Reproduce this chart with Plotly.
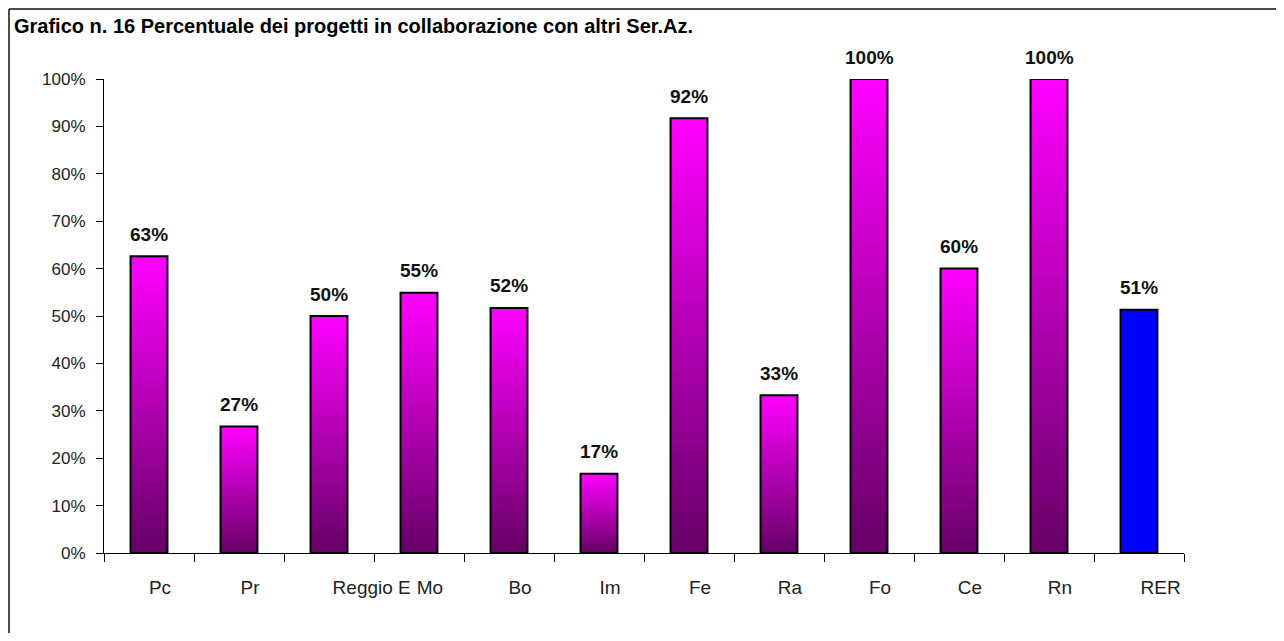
import plotly.graph_objects as go

categories = ["Pc", "Pr", "Reggio E", "Mo", "Bo", "Im", "Fe", "Ra", "Fo", "Ce", "Rn", "RER"]
x_labels = ["Pc", "Pr", "\u00a0" * 12 + "Reggio E", "Mo", "Bo", "Im", "Fe", "Ra", "Fo", "Ce", "Rn", "\u00a0" * 4 + "RER"]
values = [0.626, 0.267, 0.50, 0.549, 0.517, 0.167, 0.917, 0.333, 1.00, 0.60, 1.00, 0.513]
is_total = [False] * 11 + [True]
title_text = "Grafico n. 16 Percentuale dei progetti in collaborazione con altri Ser.Az."
y_ticks = [i / 10 for i in range(11)]

TOP = (255, 0, 255)
BOTTOM = (102, 0, 102)
TOTAL_COLOR = "#0000FF"
N = 60
BAR_W = 0.41

def mix(t):
    r = round(BOTTOM[0] + (TOP[0] - BOTTOM[0]) * t)
    g = round(BOTTOM[1] + (TOP[1] - BOTTOM[1]) * t)
    b = round(BOTTOM[2] + (TOP[2] - BOTTOM[2]) * t)
    return f"rgb({r},{g},{b})"

fig = go.Figure()
# gradient: nested bars from tallest (top colour) to shortest (bottom colour)
for k in range(N, 0, -1):
    t = (k - 0.5) / N
    fig.add_trace(go.Bar(
        x=categories,
        y=[v * k / N for v in values],
        width=BAR_W,
        marker=dict(color=[TOTAL_COLOR if tot else mix(t) for tot in is_total], line=dict(width=0)),
        hoverinfo="skip",
        showlegend=False,
        cliponaxis=False,
    ))
# outline
fig.add_trace(go.Bar(
    x=categories, y=values, width=BAR_W,
    marker=dict(color="rgba(0,0,0,0)", line=dict(color="black", width=2)),
    showlegend=False, cliponaxis=False,
    hovertemplate="%{x}: %{y:.1%}<extra></extra>",
))

def pct(v):
    return f"<b>{int(v * 100 + 0.5)}%</b>"

for c, v in zip(categories, values):
    fig.add_annotation(x=c, y=v, text=pct(v), showarrow=False, yshift=22,
                       font=dict(family="Arial, Liberation Sans", size=19, color="#111"),
                       xref="x", yref="y")

W, H = 1276, 625
L, R, T, B = 96, 100, 71, 80
pw, ph = W - L - R, H - T - B

fig.add_annotation(text=f"<b>{title_text}</b>", xref="paper", yref="paper",
                   x=(4 - L) / pw, y=(H - B - 5) / ph, xanchor="left", yanchor="top",
                   showarrow=False, font=dict(family="Arial, Liberation Sans", size=20, color="#000"))

# outer frame: left and top edges (right/bottom lie outside the picture)
fx0 = (1 - L) / pw
fy1 = (H - B - 1) / ph
fig.add_shape(type="line", xref="paper", yref="paper", x0=fx0, x1=fx0, y0=-B / ph - 0.05, y1=fy1,
              line=dict(color="#111", width=1.5), layer="below")
fig.add_shape(type="line", xref="paper", yref="paper", x0=fx0, x1=(W - L) / pw + 0.05, y0=fy1, y1=fy1,
              line=dict(color="#111", width=1.5), layer="below")

fig.update_layout(
    width=W, height=H,
    margin=dict(l=L, r=R, t=T, b=B, autoexpand=False),
    barmode="overlay",
    plot_bgcolor="white", paper_bgcolor="white",
    font=dict(family="Arial, Liberation Sans", size=17, color="#222"),
    showlegend=False,
    xaxis=dict(type="category", tickmode="array", tickvals=categories, ticktext=x_labels,
               tickson="boundaries", ticks="outside", ticklen=8, tickangle=0, automargin=False,
               tickcolor="black", showline=True, linecolor="black", linewidth=1,
               showgrid=False, ticklabelstandoff=17, ticklabelshift=11,
               tickfont=dict(size=19, color="#222")),
    yaxis=dict(range=[0, 1], tickvals=y_ticks, tickformat=".0%", ticks="outside", ticklen=7,
               automargin=False,
               tickcolor="black", showline=True, linecolor="black", linewidth=1,
               showgrid=False, zeroline=False, ticklabelstandoff=7,
               tickfont=dict(size=17, color="#222")),
)

fig.write_html("out.html")
